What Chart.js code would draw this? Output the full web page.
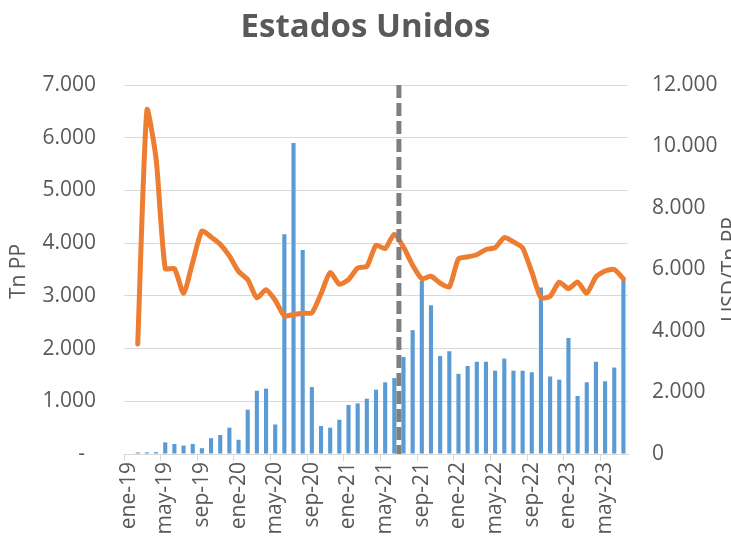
<!DOCTYPE html>
<html>
<head>
<meta charset="utf-8">
<script src="https://cdn.jsdelivr.net/npm/chart.js@4/dist/chart.umd.min.js"></script>
<style>
  html, body { margin: 0; padding: 0; background: #ffffff; }
  #wrap { width: 731px; height: 542px; }
</style>
</head>
<body>
<div id="wrap"><canvas id="c" width="731" height="542"></canvas></div>
<script>
const chartTitle = 'Estados Unidos';
const leftAxisTitle = 'Tn PP';
const rightAxisTitle = 'USD/Tn PP';

const months = [
  'ene-19','feb-19','mar-19','abr-19','may-19','jun-19','jul-19','ago-19','sep-19','oct-19','nov-19','dic-19',
  'ene-20','feb-20','mar-20','abr-20','may-20','jun-20','jul-20','ago-20','sep-20','oct-20','nov-20','dic-20',
  'ene-21','feb-21','mar-21','abr-21','may-21','jun-21','jul-21','ago-21','sep-21','oct-21','nov-21','dic-21',
  'ene-22','feb-22','mar-22','abr-22','may-22','jun-22','jul-22','ago-22','sep-22','oct-22','nov-22','dic-22',
  'ene-23','feb-23','mar-23','abr-23','may-23','jun-23','jul-23'
];

// Tn PP (bars, left axis)
const tnPP = [
  0, 30, 30, 35, 220, 190, 160, 190, 110, 300, 360, 500,
  270, 840, 1200, 1240, 560, 4170, 5900, 3870, 1270, 530, 500, 650,
  930, 960, 1050, 1220, 1360, 1440, 1840, 2350, 3280, 2820, 1860, 1950,
  1520, 1670, 1750, 1750, 1580, 1810, 1580, 1580, 1550, 3160, 1470, 1410,
  2200, 1100, 1360, 1750, 1380, 1640, 3310
];

// USD/Tn PP (line, right axis)
const usdPerTn = [
  null, 3580, 11190, 9610, 6030, 6030, 5230, 6240, 7250, 7060, 6820, 6440,
  5940, 5670, 5080, 5340, 5000, 4490, 4540, 4580, 4590, 5210, 5900, 5520,
  5670, 6050, 6100, 6790, 6680, 7150, 6730, 6140, 5700, 5780, 5560, 5430,
  6350, 6410, 6480, 6650, 6710, 7040, 6900, 6700, 5920, 5080, 5130, 5590,
  5380, 5590, 5230, 5760, 5950, 6000, 5700
];

const leftTicks = [0, 1000, 2000, 3000, 4000, 5000, 6000, 7000];
const rightTicks = [0, 2000, 4000, 6000, 8000, 10000, 12000];
const dividerBetween = ['jun-21', 'jul-21'];

const FONT = "'Open Sans', 'Liberation Sans', sans-serif";
const TXT = '#595959';
const GRID = '#d9d9d9';

function fmt(v) {
  return String(v).replace(/\B(?=(\d{3})+(?!\d))/g, '.');
}

const overlay = {
  id: 'overlay',
  afterDatasetsDraw(chart) {
    const ctx = chart.ctx;
    const xs = chart.scales.x;
    const a = chart.chartArea;
    const i1 = months.indexOf(dividerBetween[0]);
    const i2 = months.indexOf(dividerBetween[1]);
    const x = (xs.getPixelForValue(i1) + xs.getPixelForValue(i2)) / 2;
    ctx.save();
    ctx.strokeStyle = '#7f7f7f';
    ctx.lineWidth = 5;
    ctx.setLineDash([13, 5]);
    ctx.beginPath();
    ctx.moveTo(x, a.top);
    ctx.lineTo(x, a.bottom);
    ctx.stroke();
    ctx.restore();
  },
  afterDraw(chart) {
    const ctx = chart.ctx;
    const a = chart.chartArea;
    const cy = (a.top + a.bottom) / 2;
    ctx.save();
    ctx.fillStyle = TXT;
    ctx.font = "21px " + FONT;
    ctx.textAlign = 'center';
    ctx.textBaseline = 'top';
    // left title
    ctx.save();
    ctx.translate(9, cy + 2);
    ctx.rotate(-Math.PI / 2);
    ctx.fillText(leftAxisTitle, 0, 0);
    ctx.restore();
    // right title (partially cut by the canvas edge)
    ctx.save();
    ctx.translate(chart.width - 10, cy);
    ctx.rotate(-Math.PI / 2);
    ctx.fillText(rightAxisTitle, 0, 0);
    ctx.restore();
    ctx.restore();
  }
};

new Chart(document.getElementById('c'), {
  data: {
    labels: months,
    datasets: [
      {
        type: 'line',
        data: usdPerTn,
        yAxisID: 'y1',
        borderColor: '#ED7D31',
        backgroundColor: '#ED7D31',
        borderWidth: 5,
        pointRadius: 0,
        tension: 0.2,
        borderJoinStyle: 'round',
        borderCapStyle: 'round',
        spanGaps: false,
        order: 0
      },
      {
        type: 'bar',
        data: tnPP,
        yAxisID: 'y',
        backgroundColor: '#5B9BD5',
        borderWidth: 0,
        categoryPercentage: 1,
        barPercentage: 0.45,
        order: 1
      }
    ]
  },
  options: {
    responsive: false,
    animation: false,
    devicePixelRatio: 1,
    layout: { padding: 0 },
    plugins: {
      legend: { display: false },
      tooltip: { enabled: false },
      title: {
        display: true,
        text: chartTitle,
        color: TXT,
        font: { family: FONT, size: 33, weight: 'bold', lineHeight: 1.2 },
        padding: { top: 8, bottom: 37.4 }
      }
    },
    scales: {
      x: {
        type: 'category',
        offset: true,
        afterFit(s) { s.height = 88; },
        grid: {
          offset: true,
          drawOnChartArea: false,
          drawTicks: true,
          tickLength: 7,
          color: (c) => (c.index % 4 === 0 ? GRID : 'rgba(0,0,0,0)'),
          lineWidth: 1
        },
        border: { display: true, color: GRID, width: 1 },
        ticks: {
          autoSkip: false,
          minRotation: 90,
          maxRotation: 90,
          padding: 1,
          color: TXT,
          font: { family: FONT, size: 21 },
          callback: (v, i) => (i % 4 === 0 ? months[i] : '')
        }
      },
      y: {
        position: 'left',
        min: 0,
        max: 7000,
        afterFit(s) { s.width = 124; },
        afterBuildTicks(s) { s.ticks = leftTicks.map(v => ({ value: v })); },
        grid: { color: GRID, lineWidth: 1, drawTicks: false },
        border: { display: false },
        ticks: {
          padding: 28,
          color: TXT,
          font: { family: FONT, size: 21 },
          callback: (v) => (v === 0 ? '-  ' : fmt(v))
        }
      },
      y1: {
        position: 'right',
        min: 0,
        max: 12000,
        afterFit(s) { s.width = 103; },
        afterBuildTicks(s) { s.ticks = rightTicks.map(v => ({ value: v })); },
        grid: { drawOnChartArea: false, drawTicks: false },
        border: { display: false },
        ticks: {
          padding: 24,
          color: TXT,
          font: { family: FONT, size: 21 },
          callback: (v) => fmt(v)
        }
      }
    }
  },
  plugins: [overlay]
});
</script>
</body>
</html>
